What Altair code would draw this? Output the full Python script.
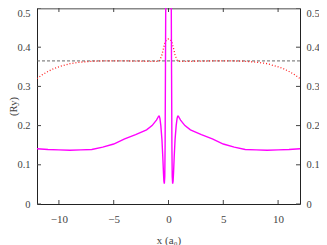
import altair as alt
import pandas as pd

# magenta solid curve
mag_x = [-12, -11, -10, -9, -8, -7, -6, -5, -4, -3, -2, -1.5, -1.1, -0.98, -0.9, -0.84, -0.78, -0.7,
         -0.6, -0.52, -0.46, -0.42, -0.38, -0.34, -0.31, -0.28, -0.25, -0.18, 0,
         0.18, 0.25, 0.28, 0.31, 0.34, 0.38, 0.42, 0.46, 0.52, 0.6, 0.7, 0.78, 0.84, 0.9, 0.98, 1.1,
         1.5, 2, 3, 4, 5, 6, 7, 8, 9, 10, 11, 12]
mag_y = [0.141, 0.139, 0.138, 0.137, 0.138, 0.139, 0.145, 0.153, 0.166, 0.177, 0.189, 0.200, 0.214,
         0.220, 0.224, 0.224, 0.218, 0.200, 0.165, 0.120, 0.080, 0.058, 0.052, 0.070, 0.150, 0.330,
         0.520, 0.750, 0.900,
         0.750, 0.520, 0.330, 0.150, 0.070, 0.052, 0.058, 0.080, 0.120, 0.165, 0.200, 0.218, 0.224,
         0.224, 0.220, 0.214, 0.200, 0.189, 0.177, 0.166, 0.153, 0.145, 0.139, 0.138, 0.137, 0.138,
         0.139, 0.141]

# red dotted curve
red_x = [-12, -11.5, -11, -10.5, -10, -9, -8, -7, -6, -4, -2, -1, -0.8, -0.6, -0.45, -0.3, -0.15, 0,
         0.15, 0.3, 0.45, 0.6, 0.8, 1, 2, 4, 6, 7, 8, 9, 10, 10.5, 11, 11.5, 12]
red_y = [0.320, 0.330, 0.338, 0.345, 0.350, 0.358, 0.362, 0.364, 0.365, 0.365, 0.364, 0.364, 0.366,
         0.380, 0.398, 0.414, 0.420, 0.421,
         0.420, 0.414, 0.398, 0.380, 0.366, 0.364, 0.364, 0.365, 0.365, 0.364, 0.362, 0.358, 0.350,
         0.345, 0.338, 0.330, 0.320]

# black dashed reference level
ref_x = [-12, 12]
ref_y = [0.365, 0.365]

x_ticks = [-10, -5, 0, 5, 10]
y_ticks = [0, 0.1, 0.2, 0.3, 0.4, 0.5]

W, H = 263, 196
FONT = "Liberation Serif"
LC = "#444"

mag = pd.DataFrame({"x": mag_x, "y": mag_y})
red = pd.DataFrame({"x": red_x, "y": red_y})
ref = pd.DataFrame({"x": ref_x, "y": ref_y})
xt = pd.DataFrame({"x": x_ticks})
yt = pd.DataFrame({"y": y_ticks})

xs = alt.Scale(domain=[-12, 12], nice=False, zero=False)
ys = alt.Scale(domain=[0, 0.5], nice=False, zero=False)

ybase = {"condition": {"test": "datum.value >= 0.5", "value": "top"}, "value": "middle"}

xaxis = alt.Axis(values=x_ticks, title="x (a₀)", ticks=False, labelPadding=9, titlePadding=10,
                 grid=False, domainColor="#222", labelFont=FONT, labelFontSize=11, labelColor=LC,
                 titleFont=FONT, titleFontSize=11, titleFontWeight="normal", titleColor=LC)
yaxis = alt.Axis(values=y_ticks, title="(Ry)", ticks=False, labelPadding=7, labelBaseline=ybase,
                 titleX=-24, titleY=H / 2, titleAngle=270, titleBaseline="middle", titleAlign="center",
                 grid=False, domainColor="#222", labelFont=FONT, labelFontSize=10.5, labelColor=LC,
                 titleFont=FONT, titleFontSize=10.5, titleFontWeight="normal", titleColor=LC,
                 format="~g")
raxis = alt.Axis(orient="right", values=y_ticks, title=None, ticks=False, labelBaseline=ybase,
                 labelPadding=6, grid=False, domainColor="#222",
                 labelFont=FONT, labelFontSize=10.5, labelColor=LC, format="~g")
taxis = alt.Axis(orient="top", values=x_ticks, title=None, ticks=False,
                 labels=False, grid=False, domainColor="#888", domainWidth=2)

ref_line = alt.Chart(ref).mark_line(color="#555", strokeWidth=0.9, strokeDash=[3, 2]).encode(
    x=alt.X("x:Q", scale=xs, axis=xaxis), y=alt.Y("y:Q", scale=ys, axis=yaxis))
red_line = alt.Chart(red).mark_line(color="#ff2020", strokeWidth=1.3, strokeDash=[1, 2], clip=True).encode(
    x=alt.X("x:Q", scale=xs, axis=taxis), y=alt.Y("y:Q", scale=ys, axis=raxis))
mag_line = alt.Chart(mag).mark_line(color="#ff00ff", strokeWidth=1.4, clip=True).encode(
    x=alt.X("x:Q", scale=xs, axis=None), y=alt.Y("y:Q", scale=ys, axis=None))

# inward ticks
tick_col = "#444"
t_bottom = alt.Chart(xt).mark_rule(color=tick_col, strokeWidth=1).encode(
    x=alt.X("x:Q", scale=xs, axis=None), y=alt.value(H), y2=alt.value(H - 4))
t_top = alt.Chart(xt).mark_rule(color=tick_col, strokeWidth=1).encode(
    x=alt.X("x:Q", scale=xs, axis=None), y=alt.value(0), y2=alt.value(4))
t_left = alt.Chart(yt).mark_rule(color=tick_col, strokeWidth=1).encode(
    y=alt.Y("y:Q", scale=ys, axis=None), x=alt.value(0), x2=alt.value(4))
t_right = alt.Chart(yt).mark_rule(color=tick_col, strokeWidth=1).encode(
    y=alt.Y("y:Q", scale=ys, axis=None), x=alt.value(W - 4), x2=alt.value(W))

chart = alt.layer(ref_line, red_line, mag_line,
                  t_bottom, t_top, t_left, t_right).resolve_axis(
    x="independent", y="independent").properties(
    width=W, height=H,
    autosize=alt.AutoSizeParams(type="none"),
    padding={"left": 29, "top": 0, "right": 19, "bottom": 44},
).configure_view(stroke=None)

chart.save("out.html", embed_options={"renderer": "svg", "actions": False})
